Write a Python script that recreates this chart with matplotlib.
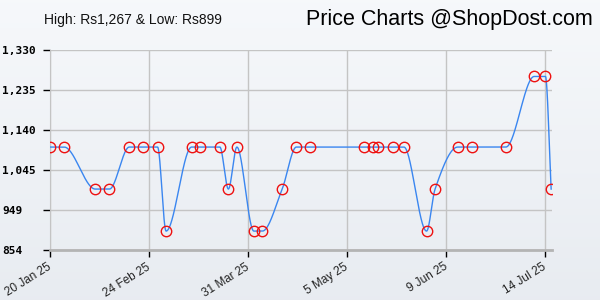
import numpy as np
import matplotlib
matplotlib.use('Agg')
import matplotlib.pyplot as plt
import matplotlib.dates as mdates
import matplotlib.transforms as mtransforms

# price points
dates = ['2025-01-20', '2025-01-25', '2025-02-05', '2025-02-10', '2025-02-17',
         '2025-02-22', '2025-02-27', '2025-03-02', '2025-03-11', '2025-03-14',
         '2025-03-21', '2025-03-24', '2025-03-27', '2025-04-02', '2025-04-05',
         '2025-04-12', '2025-04-17', '2025-04-22', '2025-05-11', '2025-05-14',
         '2025-05-16', '2025-05-21', '2025-05-25', '2025-06-02', '2025-06-05',
         '2025-06-13', '2025-06-18', '2025-06-30', '2025-07-10', '2025-07-14',
         '2025-07-16']
prices = [1099, 1099, 999, 999, 1099,
          1099, 1099, 899, 1099, 1099,
          1099, 999, 1099, 899, 899,
          999, 1099, 1099, 1099, 1099,
          1099, 1099, 1099, 899, 999,
          1099, 1099, 1099, 1267, 1267,
          999]

y_ticks = [854, 949, 1045, 1140, 1235, 1330]
x_tick_labels = ['20 Jan 25', '24 Feb 25', '31 Mar 25', '5 May 25', '9 Jun 25', '14 Jul 25']
x_tick_dates = ['2025-01-20', '2025-02-24', '2025-03-31', '2025-05-05', '2025-06-09', '2025-07-14']

title_left = 'High: Rs1,267 & Low: Rs899'
title_right = 'Price Charts @ShopDost.com'


def pchip(x, y, xs):
    # monotone cubic curve for drawing the smooth line
    x = np.asarray(x, float)
    y = np.asarray(y, float)
    h = np.diff(x)
    d = np.diff(y) / h
    m = np.zeros_like(y)
    for k in range(1, len(y) - 1):
        if d[k - 1] * d[k] > 0:
            w1 = 2 * h[k] + h[k - 1]
            w2 = h[k] + 2 * h[k - 1]
            m[k] = (w1 + w2) / (w1 / d[k - 1] + w2 / d[k])
    m[0] = 0 if d[0] == 0 else d[0]
    m[-1] = 0 if d[-1] == 0 else d[-1]
    idx = np.clip(np.searchsorted(x, xs) - 1, 0, len(x) - 2)
    t = (xs - x[idx]) / h[idx]
    h00 = 2 * t**3 - 3 * t**2 + 1
    h10 = t**3 - 2 * t**2 + t
    h01 = -2 * t**3 + 3 * t**2
    h11 = t**3 - t**2
    return h00 * y[idx] + h10 * h[idx] * m[idx] + h01 * y[idx + 1] + h11 * h[idx] * m[idx + 1]


xd = mdates.datestr2num(dates)
xt = mdates.datestr2num(x_tick_dates)

fig = plt.figure(figsize=(6, 3), dpi=100)

# soft vertical gradient background
bg = fig.add_axes([0, 0, 1, 1], zorder=-10)
grad = np.linspace(0, 1, 256).reshape(-1, 1)
top = np.array([0.965, 0.973, 0.984])
bot = np.array([0.910, 0.925, 0.945])
img = top + (bot - top) * grad[:, :, None]
bg.imshow(img, aspect='auto', extent=[0, 1, 0, 1])
bg.axis('off')

ax = fig.add_axes([50 / 600, 50 / 300, 502 / 600, 200 / 300])
ax.patch.set_alpha(0)

xs = np.linspace(xd[0], xd[-1], 2000)
ax.plot(xs, pchip(xd, prices, xs), color='#3a86f0', lw=1.0, zorder=3)
ax.plot(xd, prices, linestyle='none', marker='o', ms=7.5, mfc='none',
        mec='#ee1111', mew=1.0, zorder=4)

ax.set_xlim(xd[0], xd[-1] + 0.3)
ax.set_ylim(y_ticks[0], y_ticks[-1])
ax.set_yticks(y_ticks)
ax.set_yticklabels(['{:,}'.format(v) for v in y_ticks],
                   family='DejaVu Sans Mono', fontweight='bold', fontsize=8, ha='left')
ax.set_xticks(xt)
ax.set_xticklabels(x_tick_labels, rotation=32, ha='right', va='center',
                   rotation_mode='anchor', family='Liberation Sans',
                   fontsize=8.5, color='#222222')
shift = mtransforms.ScaledTranslation(7 / 100, 0, fig.dpi_scale_trans)
for lab in ax.get_xticklabels():
    lab.set_transform(lab.get_transform() + shift)
ax.tick_params(axis='y', length=5, width=1, color='black', pad=29.5)
ax.tick_params(axis='x', length=5, width=1, color='black', pad=6.5)

ax.grid(True, color='#c4c4c4', lw=1)
ax.set_axisbelow(True)
for s in ['top', 'right']:
    ax.spines[s].set_visible(False)
ax.spines['left'].set_color('#c4c4c4')
ax.spines['bottom'].set_color('#b4b4b4')
ax.spines['bottom'].set_linewidth(2)

fig.text(44 / 600, 1 - 20 / 300, title_left, family='Liberation Sans',
         fontsize=10, va='center', ha='left', color='#111111')
fig.text(593 / 600, 1 - 20 / 300, title_right, family='Liberation Sans',
         fontsize=15.5, va='center', ha='right', color='black')

fig.savefig('out.png', dpi=100)
